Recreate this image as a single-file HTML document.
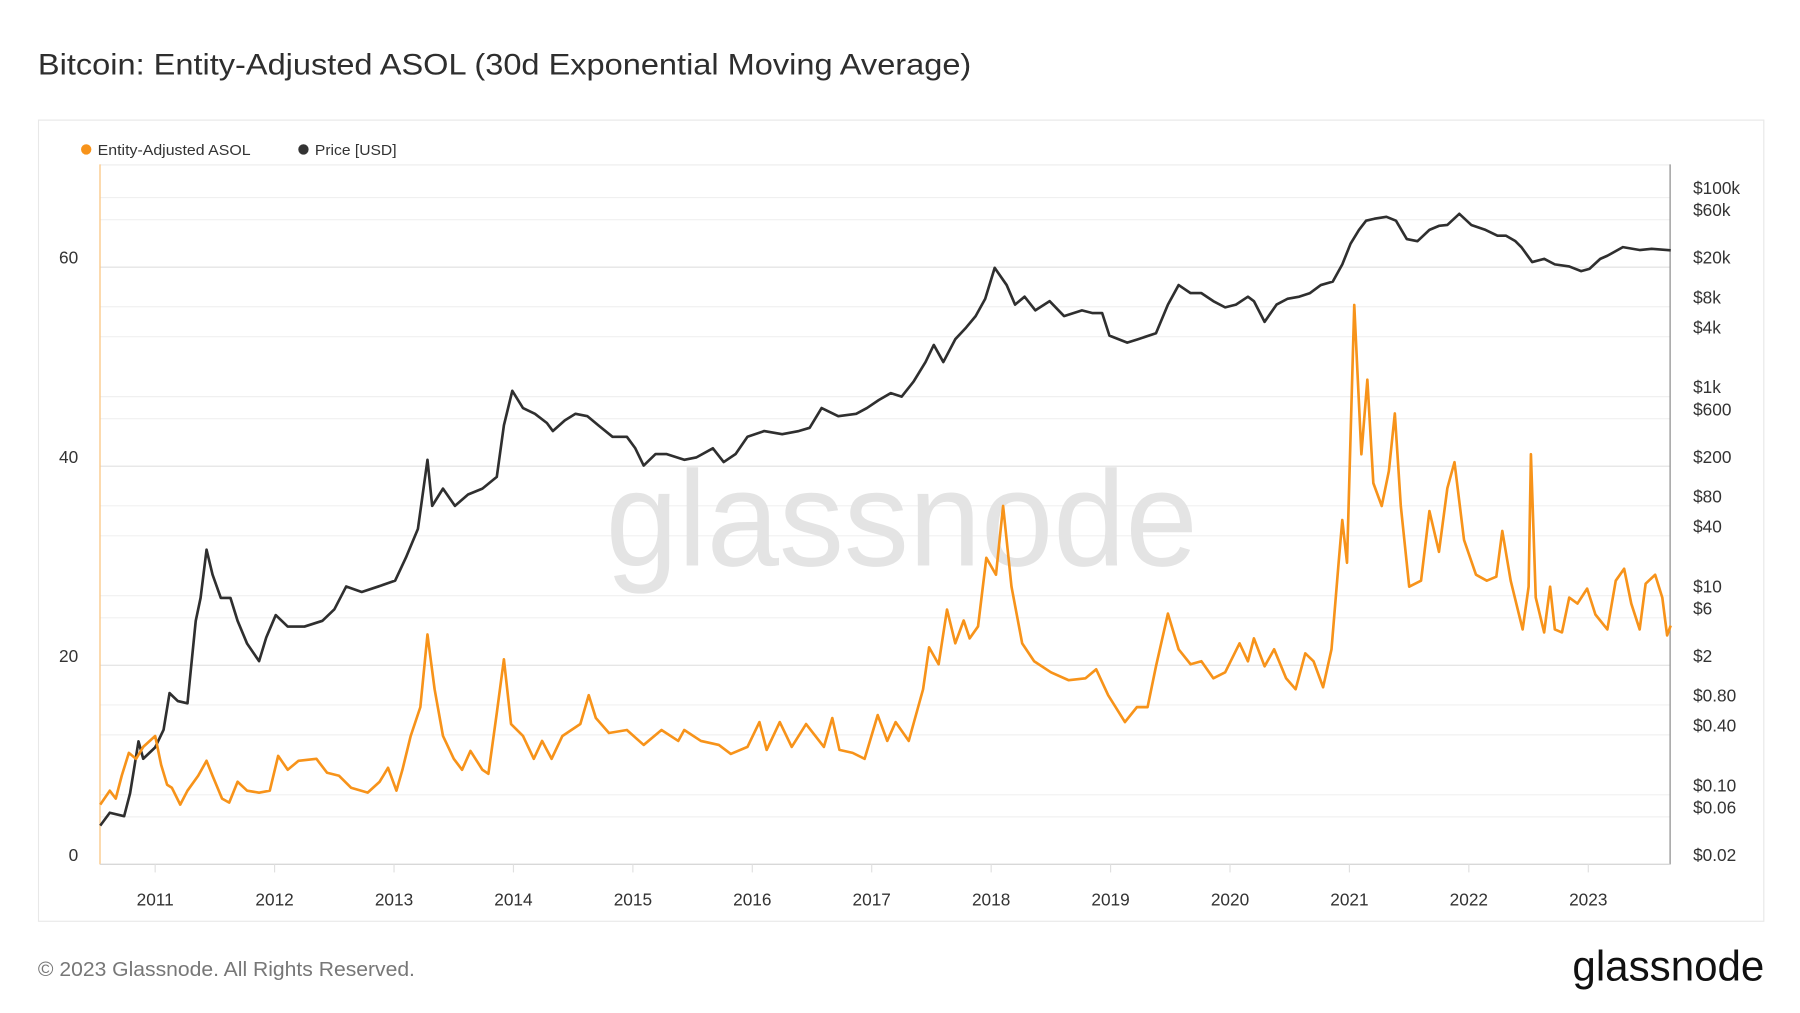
<!DOCTYPE html>
<html><head><meta charset="utf-8"><style>
html,body{margin:0;padding:0;background:#fff;}
svg{display:block;font-family:"Liberation Sans",sans-serif;}
</style></head><body>
<svg id="chart" width="1800" height="1013" viewBox="0 0 1566 881.3" xmlns="http://www.w3.org/2000/svg">
<text x="33" y="65" font-size="25.5" fill="#2e2e2e" textLength="812" lengthAdjust="spacingAndGlyphs">Bitcoin: Entity-Adjusted ASOL (30d Exponential Moving Average)</text>
<rect x="33.5" y="104.5" width="1501" height="697" fill="none" stroke="#e8e8e8"/>
<g>
<g><circle cx="75" cy="130" r="4.5" fill="#f7931a"/><text x="85" y="135" font-size="13" fill="#333" textLength="133" lengthAdjust="spacingAndGlyphs">Entity-Adjusted ASOL</text></g>
<g><circle cx="264" cy="130" r="4.5" fill="#333"/><text x="274" y="135" font-size="13" fill="#333" textLength="71" lengthAdjust="spacingAndGlyphs">Price [USD]</text></g>
</g>
<g id="grid"></g>
<text x="527" y="492" font-size="118" fill="#e4e4e4" textLength="515" lengthAdjust="spacingAndGlyphs">glassnode</text>
<g id="axes"></g>
<g id="series"></g>
<text x="33" y="849" font-size="18" fill="#777" textLength="328" lengthAdjust="spacingAndGlyphs">© 2023 Glassnode. All Rights Reserved.</text>
<text x="1535" y="853" font-size="37" fill="#111" text-anchor="end" textLength="167" lengthAdjust="spacingAndGlyphs">glassnode</text>
</svg>
<script>
const asolT=[2010.54,2010.62,2010.67,2010.72,2010.78,2010.84,2010.9,2011.0,2011.05,2011.1,2011.14,2011.21,2011.27,2011.36,2011.43,2011.48,2011.56,2011.62,2011.69,2011.77,2011.87,2011.96,2012.03,2012.11,2012.2,2012.35,2012.44,2012.54,2012.64,2012.78,2012.88,2012.95,2013.02,2013.07,2013.14,2013.22,2013.28,2013.34,2013.41,2013.5,2013.57,2013.64,2013.74,2013.79,2013.86,2013.92,2013.98,2014.08,2014.17,2014.24,2014.32,2014.41,2014.56,2014.63,2014.69,2014.8,2014.95,2015.09,2015.24,2015.38,2015.43,2015.57,2015.72,2015.82,2015.96,2016.06,2016.12,2016.23,2016.33,2016.45,2016.6,2016.67,2016.73,2016.84,2016.94,2017.05,2017.13,2017.2,2017.31,2017.43,2017.48,2017.56,2017.63,2017.7,2017.77,2017.82,2017.89,2017.96,2018.04,2018.1,2018.17,2018.26,2018.36,2018.5,2018.65,2018.79,2018.88,2018.98,2019.12,2019.22,2019.31,2019.38,2019.48,2019.57,2019.67,2019.76,2019.86,2019.96,2020.08,2020.15,2020.2,2020.29,2020.37,2020.47,2020.55,2020.63,2020.7,2020.78,2020.85,2020.91,2020.94,2020.98,2021.02,2021.04,2021.1,2021.15,2021.2,2021.27,2021.33,2021.38,2021.43,2021.5,2021.6,2021.67,2021.75,2021.82,2021.88,2021.96,2022.06,2022.15,2022.23,2022.28,2022.35,2022.45,2022.5,2022.52,2022.56,2022.63,2022.68,2022.72,2022.78,2022.84,2022.91,2022.99,2023.06,2023.16,2023.23,2023.3,2023.36,2023.43,2023.48,2023.56,2023.62,2023.66,2023.69];
const asolV=[6.0,7.4,6.6,8.9,11.2,10.6,11.8,12.9,10.0,8.0,7.7,6.0,7.4,8.9,10.4,8.9,6.6,6.2,8.3,7.4,7.2,7.4,10.9,9.5,10.4,10.6,9.2,8.9,7.7,7.2,8.3,9.7,7.4,9.5,12.9,15.8,23.1,17.6,12.9,10.6,9.5,11.4,9.5,9.1,15.2,20.6,14.1,12.9,10.6,12.4,10.6,12.9,14.1,17.0,14.7,13.2,13.5,12.0,13.5,12.4,13.5,12.4,12.0,11.1,11.8,14.3,11.5,14.3,11.8,14.1,11.8,14.7,11.5,11.2,10.6,15.0,12.4,14.3,12.4,17.6,21.8,20.1,25.6,22.2,24.5,22.7,23.9,30.8,29.1,36.0,27.9,22.2,20.4,19.3,18.5,18.7,19.6,17.0,14.3,15.8,15.8,19.9,25.2,21.6,20.1,20.4,18.7,19.3,22.2,20.4,22.7,19.9,21.6,18.7,17.6,21.2,20.4,17.8,21.6,30.3,34.6,30.3,47.6,56.2,41.2,48.7,38.3,36.0,39.5,45.3,36.0,27.9,28.5,35.5,31.4,37.8,40.4,32.6,29.1,28.5,28.9,33.5,28.5,23.6,27.9,41.2,26.8,23.3,27.9,23.6,23.3,26.8,26.2,27.7,25.1,23.6,28.5,29.7,26.2,23.6,28.2,29.1,26.8,23.0,24.0,23.9];
const priceT=[2010.54,2010.62,2010.74,2010.79,2010.86,2010.9,2011.0,2011.07,2011.12,2011.19,2011.27,2011.34,2011.38,2011.43,2011.48,2011.55,2011.63,2011.69,2011.77,2011.87,2011.93,2012.01,2012.11,2012.25,2012.4,2012.5,2012.6,2012.73,2012.87,2013.01,2013.1,2013.2,2013.28,2013.32,2013.41,2013.51,2013.62,2013.74,2013.86,2013.92,2013.99,2014.08,2014.18,2014.28,2014.33,2014.43,2014.52,2014.62,2014.71,2014.83,2014.95,2015.02,2015.09,2015.19,2015.28,2015.43,2015.53,2015.67,2015.76,2015.86,2015.96,2016.1,2016.25,2016.39,2016.48,2016.58,2016.72,2016.87,2016.96,2017.06,2017.16,2017.25,2017.35,2017.45,2017.52,2017.6,2017.7,2017.79,2017.87,2017.95,2018.03,2018.13,2018.2,2018.28,2018.37,2018.49,2018.61,2018.76,2018.85,2018.93,2018.99,2019.14,2019.23,2019.38,2019.48,2019.57,2019.67,2019.76,2019.86,2019.96,2020.05,2020.15,2020.2,2020.29,2020.39,2020.48,2020.58,2020.67,2020.76,2020.86,2020.94,2021.01,2021.08,2021.14,2021.21,2021.31,2021.39,2021.48,2021.57,2021.67,2021.75,2021.82,2021.92,2022.02,2022.14,2022.24,2022.31,2022.39,2022.44,2022.53,2022.63,2022.72,2022.84,2022.94,2023.01,2023.1,2023.16,2023.29,2023.43,2023.53,2023.69];
const priceV=[0.049,0.066,0.061,0.104,0.344,0.23,0.30,0.45,1.05,0.875,0.83,5.6,9.5,29,16.3,9.5,9.5,5.6,3.3,2.2,3.8,6.4,4.9,4.9,5.6,7.3,12.4,10.9,12.4,14.2,24.2,47,232,80,119,80,104,119,156,515,1145,768,673,543,451,578,673,635,515,395,395,303,203,265,265,232,245,303,220,265,395,451,420,451,486,768,635,673,768,925,1084,1000,1415,2225,3310,2225,3780,4940,6440,9600,19700,13200,8400,10100,7360,9100,6440,7360,6900,6900,4100,3490,3780,4330,8400,13200,10960,10960,9100,7880,8400,10100,9100,5640,8400,9600,10100,10960,13200,14300,21300,34400,47300,58500,61200,64100,58500,38300,36500,47300,51900,53000,68700,53000,47300,41400,41400,36500,31800,22500,24200,21300,20300,18200,19200,24200,26000,31800,29700,30500,29500,27800];
const leftTicks=[0,20,40,60];
const rightTickVals=[0.02,0.06,0.1,0.4,0.8,2,6,10,40,80,200,600,1000,4000,8000,20000,60000,100000];
const rightTickLabels=["$0.02","$0.06","$0.10","$0.40","$0.80","$2","$6","$10","$40","$80","$200","$600","$1k","$4k","$8k","$20k","$60k","$100k"];
const years=[2011,2012,2013,2014,2015,2016,2017,2018,2019,2020,2021,2022,2023];

const NS="http://www.w3.org/2000/svg";
const PL=87,PR=1453,PT=143,PB=752;
const xScale=t=>135+(t-2011)*103.9;
const yLeft=v=>PB-v*8.66;
const yRight=p=>PB-Math.log10(p/0.02)*86.6;
function mk(tag,attrs,parent){const e=document.createElementNS(NS,tag);for(const k in attrs)e.setAttribute(k,attrs[k]);parent.appendChild(e);return e;}
const grid=document.getElementById('grid'),axes=document.getElementById('axes'),series=document.getElementById('series');
mk('line',{x1:PL,x2:PR,y1:PT+0.5,y2:PT+0.5,stroke:'#ececec'},grid);
rightTickVals.forEach((v,i)=>{const y=yRight(v);
 const l=mk('line',{x1:PL,x2:PR,y1:y,y2:y,stroke:'#f0f0f0','stroke-width':1},grid);
 
 
 const t=mk('text',{x:1473,y:y-3,'font-size':15,fill:'#333'},axes);t.textContent=rightTickLabels[i];
 
 
});
leftTicks.forEach(v=>{const y=yLeft(v);
 const l=mk('line',{x1:PL,x2:PR,y1:y,y2:y,stroke:'#e4e4e4','stroke-width':1},grid);
 
 
 const t=mk('text',{x:68,y:y-3,'font-size':15,fill:'#333','text-anchor':'end'},axes);t.textContent=v;
 
 
});
mk('line',{x1:PL,x2:PL,y1:PT,y2:PB,stroke:'#fbc98a','stroke-width':1.2},axes);
mk('line',{x1:PR,x2:PR,y1:PT,y2:PB,stroke:'#999','stroke-width':1.2},axes);
mk('line',{x1:PL,x2:PR,y1:PB,y2:PB,stroke:'#d8d8d8','stroke-width':1},axes);
years.forEach(yr=>{const x=xScale(yr);
 mk('line',{x1:x,x2:x,y1:PB,y2:PB+7,stroke:'#e0e0e0'},axes);
 const t=mk('text',{x:x,y:788,'font-size':15,fill:'#333','text-anchor':'middle'},axes);t.textContent=yr;
 
 
});
const pPath=priceT.map((t,i)=>(i?'L':'M')+xScale(t).toFixed(1)+','+yRight(priceV[i]).toFixed(1)).join('');
const pl=mk('path',{d:pPath,fill:'none',stroke:'#2f2f2f','stroke-width':2.3,'stroke-linejoin':'round'},series);


const aPath=asolT.map((t,i)=>(i?'L':'M')+xScale(t).toFixed(1)+','+yLeft(asolV[i]).toFixed(1)).join('');
const al=mk('path',{d:aPath,fill:'none',stroke:'#f7931a','stroke-width':2.3,'stroke-linejoin':'round'},series);


</script>
</body></html>
